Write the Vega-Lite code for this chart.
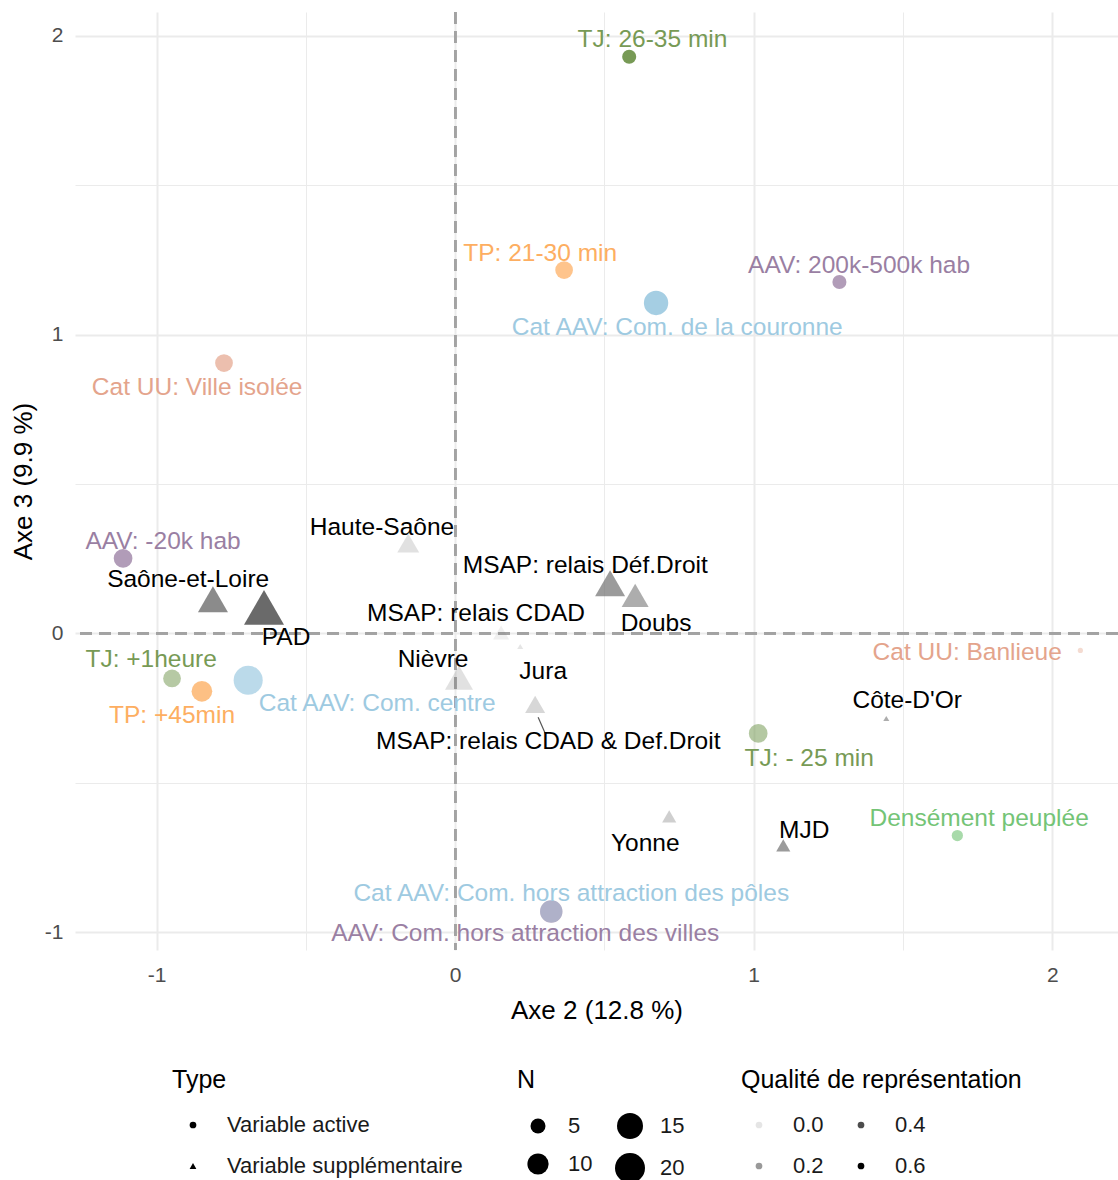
{
  "$schema": "https://vega.github.io/schema/vega-lite/v6.json",
  "width": 1043,
  "height": 938,
  "autosize": {"type": "none"},
  "padding": {"left": 75, "top": 12, "right": 0, "bottom": 230},
  "background": "white",
  "config": {
    "view": {"stroke": null},
    "font": "Liberation Sans",
    "legend": {
      "titleFont": "Liberation Sans",
      "labelFont": "Liberation Sans",
      "titleFontSize": 25,
      "titleFontWeight": "normal",
      "titleColor": "#000000",
      "labelFontSize": 22,
      "labelColor": "#1a1a1a",
      "labelLimit": 0,
      "titleLimit": 0
    }
  },
  "datasets": {
    "pts": [
      {"label": "TJ: 26-35 min", "type": "Variable active", "group": "TJ", "x": 0.583, "y": 1.93, "lx": 0.661, "ly": 1.987, "N": 4.4, "q": 0.6},
      {"label": "TP: 21-30 min", "type": "Variable active", "group": "TP", "x": 0.365, "y": 1.216, "lx": 0.285, "ly": 1.27, "N": 7, "q": 0.42},
      {"label": "AAV: 200k-500k hab", "type": "Variable active", "group": "AAV", "x": 1.287, "y": 1.176, "lx": 1.353, "ly": 1.229, "N": 4.4, "q": 0.45},
      {"label": "Cat AAV: Com. de la couronne", "type": "Variable active", "group": "CatAAV", "x": 0.673, "y": 1.106, "lx": 0.744, "ly": 1.022, "N": 13.2, "q": 0.55},
      {"label": "Cat UU: Ville isolée", "type": "Variable active", "group": "CatUU", "x": -0.774, "y": 0.905, "lx": -0.864, "ly": 0.821, "N": 7, "q": 0.4},
      {"label": "AAV: -20k hab", "type": "Variable active", "group": "AAV", "x": -1.112, "y": 0.251, "lx": -0.978, "ly": 0.305, "N": 7.8, "q": 0.45},
      {"label": "TJ: +1heure", "type": "Variable active", "group": "TJ", "x": -0.948, "y": -0.151, "lx": -1.018, "ly": -0.09, "N": 7, "q": 0.29},
      {"label": "TP: +45min", "type": "Variable active", "group": "TP", "x": -0.848, "y": -0.194, "lx": -0.948, "ly": -0.275, "N": 9.5, "q": 0.45},
      {"label": "Cat AAV: Com. centre", "type": "Variable active", "group": "CatAAV", "x": -0.693, "y": -0.157, "lx": -0.261, "ly": -0.235, "N": 18.8, "q": 0.4},
      {"label": "TJ: - 25 min", "type": "Variable active", "group": "TJ", "x": 1.015, "y": -0.335, "lx": 1.186, "ly": -0.419, "N": 7.8, "q": 0.3},
      {"label": "Densément peuplée", "type": "Variable active", "group": "Densite", "x": 1.682, "y": -0.677, "lx": 1.755, "ly": -0.623, "N": 2.8, "q": 0.35},
      {"label": "AAV: Com. hors attraction des villes", "type": "Variable active", "group": "AAV", "x": 0.322, "y": -0.931, "lx": 0.235, "ly": -1.008, "N": 11.2, "q": 0.4},
      {"label": "Cat AAV: Com. hors attraction des pôles", "type": "Variable active", "group": "CatAAV", "x": 0.322, "y": -0.931, "lx": 0.389, "ly": -0.871, "N": 11, "q": 0.15},
      {"label": "Cat UU: Banlieue", "type": "Variable active", "group": "CatUU", "x": 2.094, "y": -0.057, "lx": 1.715, "ly": -0.067, "N": 0.6, "q": 0.2},
      {"label": "Haute-Saône", "type": "Variable supplémentaire", "group": "Supp", "x": -0.157, "y": 0.302, "lx": -0.245, "ly": 0.352, "N": 6, "q": 0.07},
      {"label": "MSAP: relais Déf.Droit", "type": "Variable supplémentaire", "group": "Supp", "x": 0.519, "y": 0.168, "lx": 0.436, "ly": 0.224, "N": 11.25, "q": 0.38},
      {"label": "Doubs", "type": "Variable supplémentaire", "group": "Supp", "x": 0.603, "y": 0.127, "lx": 0.673, "ly": 0.03, "N": 9.1, "q": 0.3},
      {"label": "Saône-et-Loire", "type": "Variable supplémentaire", "group": "Supp", "x": -0.811, "y": 0.114, "lx": -0.894, "ly": 0.178, "N": 11.25, "q": 0.45},
      {"label": "PAD", "type": "Variable supplémentaire", "group": "Supp", "x": -0.64, "y": 0.087, "lx": -0.566, "ly": -0.017, "N": 20, "q": 0.6},
      {"label": "MSAP: relais CDAD", "type": "Variable supplémentaire", "group": "Supp", "x": 0.154, "y": 0.003, "lx": 0.07, "ly": 0.064, "N": 3.2, "q": 0.0},
      {"label": "Jura", "type": "Variable supplémentaire", "group": "Supp", "x": 0.218, "y": -0.044, "lx": 0.295, "ly": -0.131, "N": 0.45, "q": 0.05},
      {"label": "Nièvre", "type": "Variable supplémentaire", "group": "Supp", "x": 0.013, "y": -0.148, "lx": -0.074, "ly": -0.09, "N": 9.8, "q": 0.07},
      {"label": "MSAP: relais CDAD & Def.Droit", "type": "Variable supplémentaire", "group": "Supp", "x": 0.268, "y": -0.238, "lx": 0.312, "ly": -0.365, "N": 5, "q": 0.11},
      {"label": "Côte-D'Or", "type": "Variable supplémentaire", "group": "Supp", "x": 1.444, "y": -0.285, "lx": 1.514, "ly": -0.228, "N": 0.45, "q": 0.3},
      {"label": "Yonne", "type": "Variable supplémentaire", "group": "Supp", "x": 0.717, "y": -0.613, "lx": 0.637, "ly": -0.704, "N": 2.5, "q": 0.15},
      {"label": "MJD", "type": "Variable supplémentaire", "group": "Supp", "x": 1.099, "y": -0.71, "lx": 1.169, "ly": -0.66, "N": 2.5, "q": 0.38}
    ],
    "seg": [
      {"x": 0.278, "y": -0.281, "x2": 0.302, "y2": -0.335}
    ]
  },
  "data": {"name": "pts"},
  "layer": [
    {
      "mark": {"type": "rule", "color": "#a3a3a3", "strokeWidth": 2, "strokeDash": [12, 7]},
      "encoding": {
        "x": {
          "datum": 0, "type": "quantitative",
          "scale": {"domain": [-1.273, 2.22], "nice": false, "zero": false},
          "title": "Axe 2 (12.8 %)",
          "axis": {
            "values": [-1, -0.5, 0, 0.5, 1, 1.5, 2],
            "labelExpr": "datum.value % 1 === 0 ? '' + datum.value : ''",
            "domain": false, "ticks": false, "grid": true,
            "gridColor": "#ebebeb",
            "gridWidth": {"condition": {"test": "datum.value % 1 === 0", "value": 2}, "value": 1},
            "labelFont": "Liberation Sans", "labelFontSize": 21, "labelColor": "#4d4d4d", "labelPadding": 14,
            "titleFont": "Liberation Sans", "titleFontSize": 26, "titleFontWeight": "normal", "titleColor": "#000000", "titlePadding": 12
          }
        }
      }
    },
    {
      "mark": {"type": "rule", "color": "#a3a3a3", "strokeWidth": 2, "strokeDash": [12, 7]},
      "encoding": {
        "y": {
          "datum": 0, "type": "quantitative",
          "scale": {"domain": [-1.06, 2.08], "nice": false, "zero": false},
          "title": "Axe 3 (9.9 %)",
          "axis": {
            "values": [-1, -0.5, 0, 0.5, 1, 1.5, 2],
            "labelExpr": "datum.value % 1 === 0 ? '' + datum.value : ''",
            "domain": false, "ticks": false, "grid": true,
            "gridColor": "#ebebeb",
            "gridWidth": {"condition": {"test": "datum.value % 1 === 0", "value": 2}, "value": 1},
            "labelFont": "Liberation Sans", "labelFontSize": 21, "labelColor": "#4d4d4d", "labelPadding": 12,
            "titleFont": "Liberation Sans", "titleFontSize": 26, "titleFontWeight": "normal", "titleColor": "#000000", "titlePadding": 8
          }
        }
      }
    },
    {
      "transform": [{"filter": "datum.type === 'Variable active'"}],
      "mark": {"type": "point", "filled": true, "strokeWidth": 0},
      "encoding": {
        "x": {"field": "x", "type": "quantitative", "title": "Axe 2 (12.8 %)"},
        "y": {"field": "y", "type": "quantitative", "title": "Axe 3 (9.9 %)"},
        "color": {
          "field": "group", "type": "nominal", "legend": null,
          "scale": {"domain": ["TJ", "TP", "AAV", "CatAAV", "CatUU", "Densite", "Supp"], "range": ["#779a55", "#fdae61", "#9a7fa3", "#9ecae1", "#e4a48c", "#74c476", "#6a6a6a"]}
        },
        "shape": {
          "field": "type", "type": "nominal",
          "scale": {"domain": ["Variable active", "Variable supplémentaire"], "range": ["circle", "triangle-up"]},
          "legend": {
            "title": "Type", "orient": "none", "legendX": 97, "legendY": 1056,
            "symbolSize": 45, "symbolStrokeWidth": 0, "symbolFillColor": "#000000", "symbolOpacity": 1,
            "symbolOffset": 10, "labelOffset": 23, "rowPadding": 19, "titlePadding": 21,
            "encode": {"symbols": {"update": {"fill": {"value": "#000000"}, "opacity": {"value": 1}, "fillOpacity": {"value": 1}}}}
          }
        },
        "size": {
          "field": "N", "type": "quantitative",
          "scale": {"domain": [0, 20], "range": [0, 900]},
          "legend": {
            "title": "N", "orient": "none", "legendX": 442, "legendY": 1056,
            "values": [5, 15, 10, 20], "columns": 2, "direction": "horizontal",
            "symbolStrokeWidth": 0, "symbolFillColor": "#000000", "symbolOpacity": 1,
            "symbolOffset": 6, "labelOffset": 15, "columnPadding": 16, "rowPadding": 14, "titlePadding": 20,
            "encode": {"symbols": {"update": {"fill": {"value": "#000000"}, "opacity": {"value": 1}, "fillOpacity": {"value": 1}}}}
          }
        },
        "opacity": {
          "field": "q", "type": "quantitative",
          "scale": {"domain": [0, 0.6], "range": [0.1, 1], "clamp": true},
          "legend": {
            "title": "Qualité de représentation", "orient": "none", "legendX": 666, "legendY": 1056,
            "values": [0, 0.4, 0.2, 0.6], "columns": 2, "direction": "horizontal", "format": ".1f",
            "symbolSize": 45, "symbolStrokeWidth": 0, "symbolType": "circle", "symbolFillColor": "#000000",
            "symbolOffset": 7, "labelOffset": 23, "columnPadding": 19, "rowPadding": 19, "titlePadding": 21,
            "encode": {"symbols": {"update": {"fill": {"value": "#000000"}, "fillOpacity": {"value": 1}}}}
          }
        }
      }
    },
    {
      "transform": [{"filter": "datum.type === 'Variable supplémentaire'"}],
      "mark": {"type": "point", "filled": true, "strokeWidth": 0},
      "encoding": {
        "x": {"field": "x", "type": "quantitative", "title": "Axe 2 (12.8 %)"},
        "y": {"field": "y", "type": "quantitative", "title": "Axe 3 (9.9 %)"},
        "color": {"field": "group", "type": "nominal", "legend": null},
        "shape": {"field": "type", "type": "nominal", "legend": null},
        "size": {"field": "N", "type": "quantitative", "scale": {"domain": [0, 20], "range": [0, 1600]}, "legend": null},
        "opacity": {"field": "q", "type": "quantitative", "legend": null}
      }
    },
    {
      "data": {"name": "seg"},
      "mark": {"type": "rule", "color": "#555555", "strokeWidth": 1.2},
      "encoding": {
        "x": {"field": "x", "type": "quantitative", "title": "Axe 2 (12.8 %)"},
        "y": {"field": "y", "type": "quantitative", "title": "Axe 3 (9.9 %)"},
        "x2": {"field": "x2"},
        "y2": {"field": "y2"}
      }
    },
    {
      "mark": {"type": "text", "fontSize": 24.5, "font": "Liberation Sans", "align": "center", "baseline": "middle"},
      "encoding": {
        "x": {"field": "lx", "type": "quantitative", "title": "Axe 2 (12.8 %)"},
        "y": {"field": "ly", "type": "quantitative", "title": "Axe 3 (9.9 %)"},
        "text": {"field": "label", "type": "nominal"},
        "color": {
          "condition": {"test": "datum.group === 'Supp'", "value": "#000000"},
          "field": "group", "type": "nominal", "legend": null
        }
      }
    }
  ],
  "resolve": {"scale": {"size": "independent"}}
}
